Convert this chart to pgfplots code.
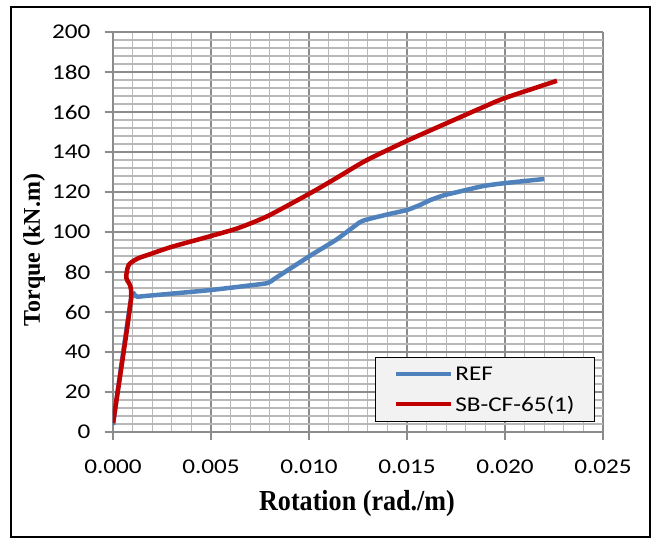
\documentclass[border=0pt]{standalone}
\usepackage{pgfplots}
\pgfplotsset{compat=1.18}
\usepackage{fontspec}
\setmainfont{Carlito}[FakeStretch=1.2]
\newfontfamily\xlabelfont{Liberation Serif}[FakeStretch=0.9]
\newfontfamily\ylabelfont{Liberation Serif}
\definecolor{refblue}{HTML}{4F81BD}
\definecolor{sbred}{HTML}{C00000}
\definecolor{majgrid}{HTML}{8C8C8C}
\definecolor{mingrid}{HTML}{B8B8B8}
\definecolor{legfill}{HTML}{F2F2F2}

\begin{document}
\begin{tikzpicture}
\path[use as bounding box] (-113pt,-112pt) rectangle (544pt,432pt);
\begin{axis}[
    scale only axis,
    width=490pt, height=400pt,
    xmin=0, xmax=0.025, ymin=0, ymax=200,
    xtick={0,0.005,0.01,0.015,0.02,0.025},
    ytick={0,20,...,200},
    minor x tick num=4, minor y tick num=4,
    grid=both,
    major grid style={draw=majgrid, line width=1.2pt},
    minor grid style={draw=mingrid, line width=1.2pt},
    axis lines*=left,
    axis line style={draw=majgrid, line width=1.2pt},
    tick align=outside,
    major tick length=8pt, minor tick length=0pt,
    tick style={draw=majgrid, line width=1.2pt},
    scaled x ticks=false,
    xticklabel style={yshift=-16pt, /pgf/number format/.cd, fixed, fixed zerofill, precision=3},
    yticklabel style={xshift=-11pt},
    /pgf/number format/assume math mode=true,
    tick label style={font=\fontsize{21}{25}\selectfont},
    xlabel={Rotation (rad./m)},
    ylabel={Torque (kN.m)},
    xlabel style={font=\xlabelfont\bfseries\fontsize{29}{33}\selectfont,
        at={(axis description cs:0.498,-0.18)}, anchor=center},
    ylabel style={font=\ylabelfont\bfseries\fontsize{24}{28}\selectfont,
        at={(axis description cs:-0.161,0.455)}, anchor=center},
    legend style={at={(0.984,0.025)}, anchor=south east, fill=legfill, draw=black,
        line width=1pt, font=\fontsize{21}{25}\selectfont,
        row sep=10pt, inner xsep=18pt, inner ysep=7pt},
    legend cell align=left,
    legend image code/.code={\draw[#1, line width=4.5pt] (0pt,0pt) -- (55pt,0pt);},
]
\addplot[refblue, line width=4.5pt, smooth, tension=0.35] coordinates {
    (0.0000, 3.5) (0.00092, 66.4) (0.00125, 67.6) (0.0028, 69) (0.005, 71)
    (0.007, 73.3) (0.0079, 74.5) (0.0083, 77) (0.0101, 88.4) (0.0114, 96.2)
    (0.0126, 104.9) (0.0131, 106.6) (0.0141, 109) (0.0150, 111) (0.01566, 113.5)
    (0.0162, 116) (0.0169, 118.4) (0.0178, 120.5) (0.0189, 123) (0.01996, 124.4)
    (0.0220, 126.5)
};
\addlegendentry{REF}
\addplot[sbred, line width=4.5pt, smooth, tension=0.4] coordinates {
    (0.0000, 4.5) (0.00092, 66.7) (0.00068, 77) (0.0008, 83.5) (0.00125, 86.7)
    (0.0020, 89.3) (0.003, 92.6) (0.005, 98) (0.0064, 102) (0.0079, 108)
    (0.0101, 119.6) (0.0114, 127) (0.0129, 135.7) (0.0150, 145.6) (0.01716, 155)
    (0.0189, 162.5) (0.02, 167) (0.02265, 175.6)
};
\addlegendentry{SB-CF-65(1)}
\end{axis}
\draw[line width=2.5pt] (-102pt,-105pt) rectangle (537pt,425pt);
\end{tikzpicture}
\end{document}
